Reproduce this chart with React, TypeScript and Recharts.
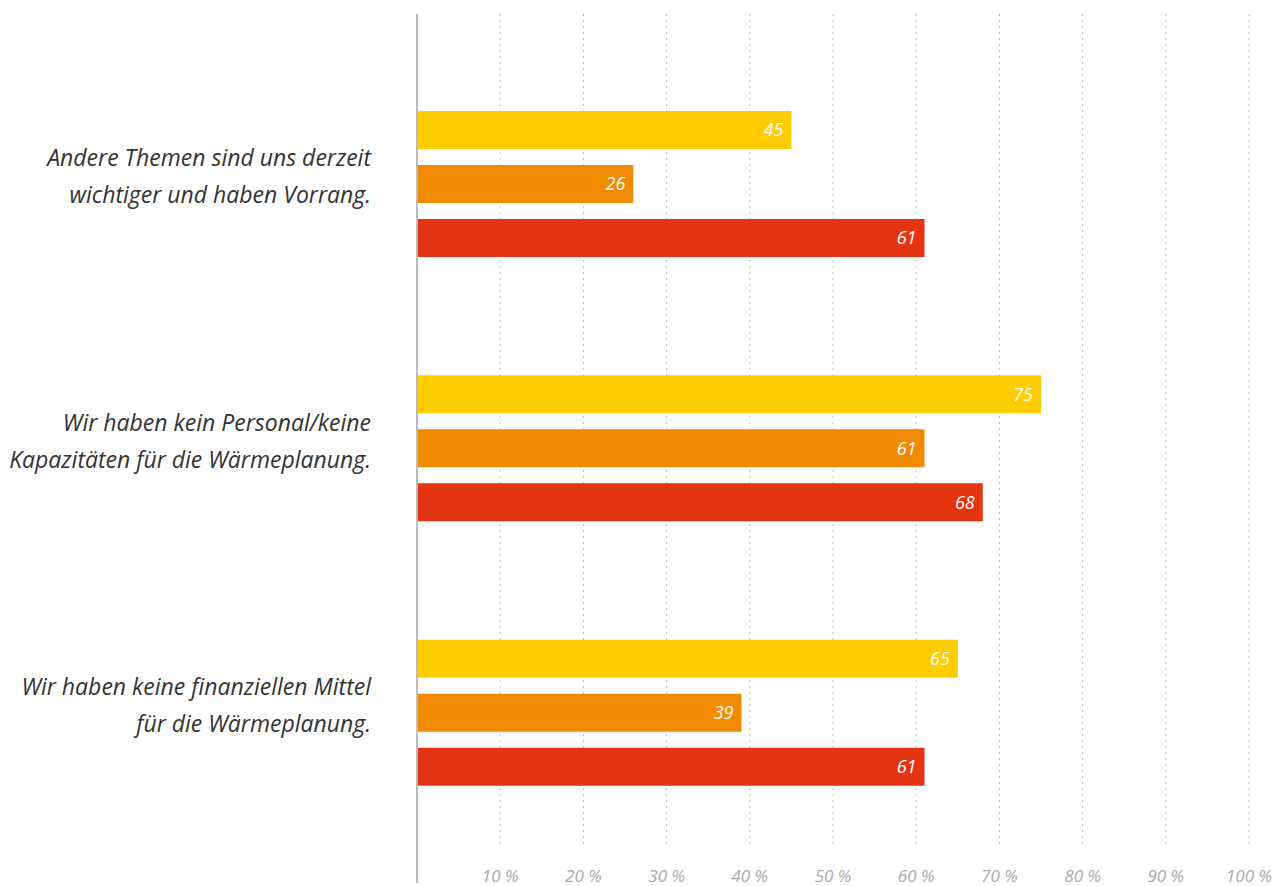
import React from "react";
import { BarChart, Bar, XAxis, YAxis, CartesianGrid, LabelList } from "recharts";

const categoryLines: string[][] = [
  ["Andere Themen sind uns derzeit", "wichtiger und haben Vorrang."],
  ["Wir haben kein Personal/keine", "Kapazitäten für die Wärmeplanung."],
  ["Wir haben keine finanziellen Mittel", "für die Wärmeplanung."],
];
const categories = categoryLines.map((l) => l.join(" "));
const seriesYellow = [45, 75, 65];
const seriesOrange = [26, 61, 39];
const seriesRed = [61, 68, 61];
const xTicks = [10, 20, 30, 40, 50, 60, 70, 80, 90, 100];

const data = categories.map((name, i) => ({
  name,
  yellow: seriesYellow[i],
  orange: seriesOrange[i],
  red: seriesRed[i],
}));

const FONT = "'Open Sans', sans-serif";

const CategoryTick = (props: any) => {
  const { x, y, index } = props;
  const lines = categoryLines[index] || [];
  return (
    <text
      x={x}
      y={y}
      textAnchor="end"
      fill="#333333"
      fontFamily={FONT}
      fontStyle="italic"
      fontSize={23}
    >
      <tspan x={x} dy={-18}>{lines[0]}</tspan>
      <tspan x={x} dy={37}>{lines[1]}</tspan>
    </text>
  );
};

const PercentTick = (props: any) => {
  const { x, y, payload } = props;
  return (
    <text
      x={x}
      y={y}
      dy={-1}
      textAnchor="middle"
      fill="#aaaaaa"
      fontFamily={FONT}
      fontStyle="italic"
      fontSize={17}
    >
      {`${payload.value} %`}
    </text>
  );
};

const labelStyle = {
  fill: "#ffffff",
  fontFamily: FONT,
  fontStyle: "italic",
  fontSize: 18,
};

export default function App() {
  return (
    <BarChart
      width={1269}
      height={878}
      data={data}
      layout="vertical"
      margin={{ top: 6, right: 28, bottom: 2, left: 0 }}
      barSize={38}
      barGap={16}
    >
      <CartesianGrid
        horizontal={false}
        vertical={true}
        stroke="#bbbbbb"
        strokeDasharray="2 4"
        y={6}
        height={832}
      />
      <XAxis
        type="number"
        domain={[0, 100]}
        ticks={xTicks}
        height={1}
        axisLine={false}
        tickLine={false}
        tickSize={0}
        tickMargin={0}
        tick={<PercentTick />}
        interval={0}
      />
      <YAxis
        type="category"
        dataKey="name"
        width={409}
        padding={{ top: 38, bottom: 38 }}
        axisLine={{ stroke: "#bbbbbb", strokeWidth: 2 }}
        tickLine={false}
        tickSize={0}
        tickMargin={46}
        tick={<CategoryTick />}
        interval={0}
      />
      <Bar dataKey="yellow" fill="#ffcc00" isAnimationActive={false}>
        <LabelList dataKey="yellow" position="insideRight" offset={8} style={labelStyle} />
      </Bar>
      <Bar dataKey="orange" fill="#f08a00" isAnimationActive={false}>
        <LabelList dataKey="orange" position="insideRight" offset={8} style={labelStyle} />
      </Bar>
      <Bar dataKey="red" fill="#e43412" isAnimationActive={false}>
        <LabelList dataKey="red" position="insideRight" offset={8} style={labelStyle} />
      </Bar>
    </BarChart>
  );
}
